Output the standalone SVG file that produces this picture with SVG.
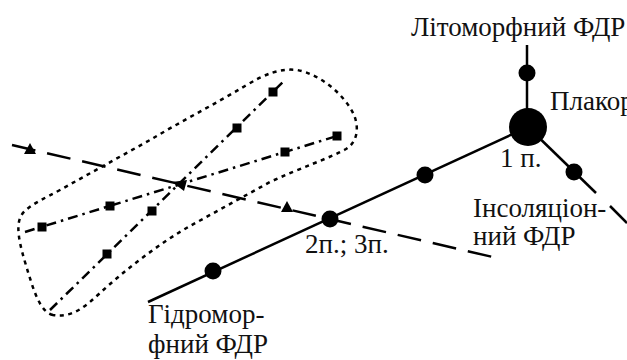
<svg xmlns="http://www.w3.org/2000/svg" width="627" height="360" viewBox="0 0 627 360">
<style>
.lbl{font-size:27px;fill:#111}
.solid{stroke:#000;stroke-width:2.5;fill:none}
.dash{stroke:#000;stroke-width:2.5;fill:none;stroke-dasharray:24 12}
.dashdot{stroke:#000;stroke-width:2.5;fill:none;stroke-dasharray:10 5 2.5 5}
.dot{stroke:#000;stroke-width:2.5;fill:none;stroke-dasharray:4 4.5}
.pt{fill:#000}
</style>
<rect width="627" height="360" fill="#fff"/>
<g id="connectors">
<path class="dot" d="M53,315 C40,312 34,292 25,262 C16,232 16,218 26,210 C34,203 45,198 60,190 L150,140 C180,122 215,104 245,86 C265,74 280,68 297,70 C320,74 345,95 354,115 C360,130 356,143 346,149 C330,158 300,168 270,182 L190,226 C160,243 125,270 100,293 C85,307 72,318 53,315 Z"/>
<line class="dashdot" x1="50" y1="310" x2="283" y2="82"/>
<line class="dashdot" x1="25" y1="232" x2="337" y2="136"/>
<line class="dash" x1="12" y1="145" x2="497" y2="258"/>
<line class="solid" x1="148" y1="302" x2="528" y2="127"/>
<line class="solid" x1="527" y1="45" x2="527" y2="127"/>
<line class="solid" x1="528" y1="127" x2="596" y2="193"/>
<line class="solid" x1="610" y1="206" x2="627" y2="223"/>
</g>
<g id="markers">
<rect class="pt" x="102.5" y="249.5" width="9" height="9"/>
<rect class="pt" x="147.5" y="206.5" width="9" height="9"/>
<rect class="pt" x="232.5" y="123.5" width="9" height="9"/>
<rect class="pt" x="268.5" y="87.5" width="9" height="9"/>
<rect class="pt" x="37.5" y="222.5" width="9" height="9"/>
<rect class="pt" x="105.5" y="201.5" width="9" height="9"/>
<rect class="pt" x="280.5" y="147.5" width="9" height="9"/>
<rect class="pt" x="332.5" y="131.5" width="9" height="9"/>
<polygon class="pt" points="30,143 36,154 24,154"/>
<polygon class="pt" points="287,201 293,212 281,212"/>
<polygon class="pt" points="172,182 187,180 184,191"/>
</g>
<g font-family="Liberation Serif, Times New Roman, serif">
<g id="node-plakor"><circle class="pt" cx="528" cy="127" r="19"/><text class="lbl" x="550" y="110">Плакор</text><text class="lbl" x="500" y="167">1 п.</text></g>
<g id="node-lito"><circle class="pt" cx="527" cy="73" r="8.5"/><text class="lbl" x="411" y="36">Літоморфний ФДР</text></g>
<g id="node-inso"><circle class="pt" cx="574" cy="172" r="8.5"/><text class="lbl" x="473" y="217">Інсоляціон-</text><text class="lbl" x="473" y="245">ний ФДР</text></g>
<g id="node-p1"><circle class="pt" cx="425" cy="175" r="8.5"/></g>
<g id="node-p2"><circle class="pt" cx="330" cy="219" r="8.5"/><text class="lbl" x="305" y="253">2п.; 3п.</text></g>
<g id="node-hydro"><circle class="pt" cx="213" cy="271" r="8.5"/><text class="lbl" x="148" y="323">Гідромор-</text><text class="lbl" x="148" y="353">фний ФДР</text></g>
</g>
</svg>
